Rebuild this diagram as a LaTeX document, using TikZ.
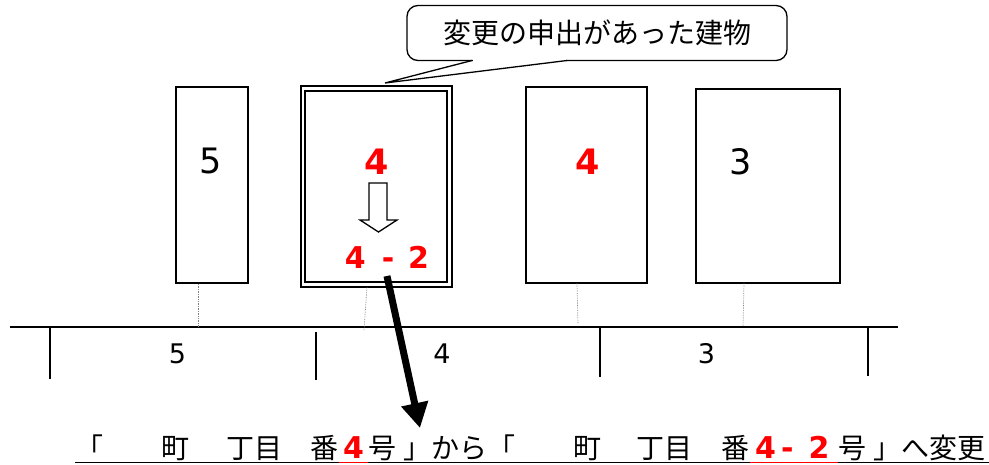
\documentclass[tikz,border=0pt]{standalone}
\usepackage{fontspec}
\setmainfont{Noto Sans CJK JP}
\newfontfamily\digitfont{DejaVu Sans}
\usetikzlibrary{arrows.meta}
\begin{document}
\begin{tikzpicture}[x=1pt,y=-1pt,
  bldg/.style={draw,line width=1.6pt,inner sep=0pt,fill=white},
  lot/.style={densely dotted,gray,line width=0.7pt},
  road/.style={line width=1.6pt},
  digit/.style={anchor=base,inner sep=0pt,font=\digitfont\fontsize{35}{38}\selectfont},
  reddigit/.style={anchor=base,inner sep=0pt,text=red,font=\digitfont\bfseries\fontsize{35}{38}\selectfont},
  lotnum/.style={anchor=base,inner sep=0pt,font=\digitfont\fontsize{27}{30}\selectfont},
  run/.style={anchor=base west,inner sep=0pt,font=\fontsize{28}{30}\selectfont},
  redrun/.style={anchor=base west,inner sep=0pt,text=red,font=\digitfont\bfseries\fontsize{30}{32}\selectfont}]
\useasboundingbox (0,0) rectangle (989,464);

% callout
\node[draw,rounded corners=11pt,line width=1.3pt,minimum width=380pt,minimum height=55pt,inner sep=0pt,
      font=\fontsize{28}{30}\selectfont] (call) at (597,33) {変更の申出があった建物};
\coordinate (pl) at (472,60.5);
\coordinate (pr) at (567,60.5);
\coordinate (tip) at (385,83);
\fill[white] (473,58.5) rectangle (566,62.5);
\draw[line width=1.3pt] (pl) -- (tip) -- (pr);

% buildings
\node[bldg,minimum width=72pt,minimum height=196pt] (b5) at (212,185) {};
\node[bldg,minimum width=151pt,minimum height=201pt] (b42) at (376.5,186.5) {};
\node[draw,line width=1.6pt,inner sep=0pt,minimum width=142pt,minimum height=191pt] (b42in) at (376,186.5) {};
\node[bldg,minimum width=121pt,minimum height=196pt] (b4) at (586.5,185) {};
\node[bldg,minimum width=144pt,minimum height=194pt] (b3) at (768,186) {};

% building numbers
\node[digit] (n5) at (210.5,173) {5};
\node[reddigit] (n4a) at (377,174) {4};
\node[reddigit] (n4b) at (587.5,174) {4};
\node[digit] (n3) at (740.5,174) {3};
\node[anchor=base,inner sep=0pt,text=red,font=\digitfont\bfseries\fontsize{30}{32}\selectfont] (n42) at (387,268) {4\hspace{16pt}-\hspace{14pt}2};

% hollow arrow
\draw[line width=1.3pt,fill=white] (369,183) -- (387,183) -- (387,220) -- (397,220) -- (378.5,232)
  -- (360,220) -- (369,220) -- cycle;

% road and lots
\coordinate (rw) at (10,327);
\coordinate (re) at (898,327);
\draw[road] (rw) -- (re);
\coordinate (t1a) at (50,327);  \coordinate (t1b) at (50,379);
\coordinate (t2a) at (316,332); \coordinate (t2b) at (316,380);
\coordinate (t3a) at (600,327); \coordinate (t3b) at (600,377);
\coordinate (t4a) at (868,327); \coordinate (t4b) at (868,376);
\draw[road] (t1a) -- (t1b);
\draw[road] (t2a) -- (t2b);
\draw[road] (t3a) -- (t3b);
\draw[road] (t4a) -- (t4b);

% dotted lot lines
\coordinate (d5) at (198,327);
\coordinate (d42) at (364,330);
\coordinate (d4) at (578,324);
\coordinate (d3) at (743,327);
\draw[lot] (b5.south -| d5) -- (d5);
\draw[lot] (367,287) -- (d42);
\draw[lot] (577,283) -- (d4);
\draw[lot] (744,283) -- (d3);

% lot numbers
\node[lotnum] (l5) at (177.5,363) {5};
\node[lotnum] (l4) at (442,363) {4};
\node[lotnum] (l3) at (706.5,363) {3};

% thick arrow
\coordinate (as) at (387,276);
\coordinate (ae) at (420,428);
\draw[line width=7pt,-{Triangle[length=25pt,width=26pt]}] (as) -- (ae);

% bottom sentence
\node[run] (r1) at (75,458) {「};
\node[run] (r2) at (161,458) {町};
\node[run] (r3) at (226,458) {丁目};
\node[run] (r4) at (310,458) {番};
\node[redrun] (r5) at (343,458) {4};
\node[run] (r6) at (368,458) {号};
\node[run] (r7) at (403,458) {」から「};
\node[run] (r8) at (573,458) {町};
\node[run] (r9) at (636,458) {丁目};
\node[run] (r10) at (721,458) {番};
\node[redrun] (r11) at (755,458) {4\hspace{5pt}-\hspace{15pt}2};
\node[run] (r12) at (838,458) {号};
\node[run] (r13) at (873,458) {」へ変更};

\coordinate (u1) at (75,462.5);
\coordinate (u2) at (989,462.5);
\draw[line width=1.5pt] (u1) -- (u2);
\coordinate (ur1) at (339,462.5);
\coordinate (ur2) at (368,462.5);
\coordinate (ur3) at (750,462.5);
\coordinate (ur4) at (838,462.5);
\draw[red,line width=1.5pt] (ur1) -- (ur2);
\draw[red,line width=1.5pt] (ur3) -- (ur4);
\end{tikzpicture}
\end{document}
